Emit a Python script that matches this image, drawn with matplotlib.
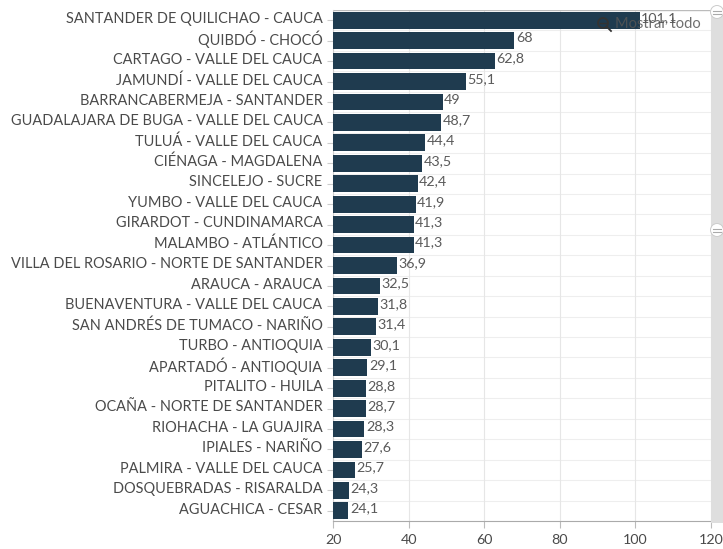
import matplotlib
matplotlib.use("Agg")
import matplotlib.pyplot as plt
from matplotlib.lines import Line2D
from matplotlib.patches import Rectangle, Ellipse
from matplotlib.transforms import ScaledTranslation

plt.rcParams['font.family'] = ['Lato', 'DejaVu Sans']

ciudades = ["SANTANDER DE QUILICHAO - CAUCA", "QUIBDÓ - CHOCÓ", "CARTAGO - VALLE DEL CAUCA",
            "JAMUNDÍ - VALLE DEL CAUCA", "BARRANCABERMEJA - SANTANDER", "GUADALAJARA DE BUGA - VALLE DEL CAUCA",
            "TULUÁ - VALLE DEL CAUCA", "CIÉNAGA - MAGDALENA", "SINCELEJO - SUCRE", "YUMBO - VALLE DEL CAUCA",
            "GIRARDOT - CUNDINAMARCA", "MALAMBO - ATLÁNTICO", "VILLA DEL ROSARIO - NORTE DE SANTANDER",
            "ARAUCA - ARAUCA", "BUENAVENTURA - VALLE DEL CAUCA", "SAN ANDRÉS DE TUMACO - NARIÑO",
            "TURBO - ANTIOQUIA", "APARTADÓ - ANTIOQUIA", "PITALITO - HUILA", "OCAÑA - NORTE DE SANTANDER",
            "RIOHACHA - LA GUAJIRA", "IPIALES - NARIÑO", "PALMIRA - VALLE DEL CAUCA",
            "DOSQUEBRADAS - RISARALDA", "AGUACHICA - CESAR"]
valores = [101.1, 68, 62.8, 55.1, 49, 48.7, 44.4, 43.5, 42.4, 41.9, 41.3, 41.3, 36.9,
           32.5, 31.8, 31.4, 30.1, 29.1, 28.8, 28.7, 28.3, 27.6, 25.7, 24.3, 24.1]
ticks_x = [20, 40, 60, 80, 100, 120]

W, H = 723, 549
fig = plt.figure(figsize=(W / 100, H / 100), dpi=100)
# ejes en pixeles de la imagen
left, right, top, bottom = 333, 711, 10, 521
ax = fig.add_axes([left / W, 1 - bottom / H, (right - left) / W, (bottom - top) / H])

y = list(range(len(ciudades)))
ax.barh(y, valores, height=0.82, color="#1f3b4f", zorder=3)
ax.set_xlim(20, 120)
ax.set_ylim(len(ciudades) - 0.5, -0.5)

ax.set_xticks(ticks_x)
ax.set_yticks(y)
ax.set_yticklabels(ciudades, fontsize=10.45, color="#4a4a4a")
ax.tick_params(axis='y', length=4, color="#cccccc", pad=3.5)
ax.tick_params(axis='x', length=5, color="#bbbbbb", labelsize=10.3, labelcolor="#4a4a4a", pad=4)
ax.grid(axis='x', color="#e6e6e6", lw=0.8, zorder=0)
for i in y:
    ax.axhline(i + 0.5, color="#eeeeee", lw=0.8, zorder=0)
ax.axhline(-0.5, color="#bbbbbb", lw=1, zorder=2)

# las etiquetas van un poco mas arriba que el centro de la barra
subir = ScaledTranslation(0, 2 / 72, fig.dpi_scale_trans)
for lab in ax.get_yticklabels():
    lab.set_transform(lab.get_transform() + subir)

for s in ['top', 'right']:
    ax.spines[s].set_visible(False)
ax.spines['left'].set_color("#cccccc")
ax.spines['bottom'].set_color("#aaaaaa")

for i, v in enumerate(valores):
    txt = f"{v:g}".replace(".", ",")
    ax.text(v + 0.4, i - 0.12, txt, va='center', ha='left', fontsize=10.3, color="#5a5a5a", zorder=5)

# barra de desplazamiento a la derecha
fig.add_artist(Rectangle((711 / W, 1 - 523 / H), 12 / W, 513 / H, transform=fig.transFigure,
                         facecolor="#dedede", edgecolor="none"))
for py in [12, 230]:
    fig.add_artist(Ellipse((717 / W, 1 - py / H), 13 / W, 13 / H, transform=fig.transFigure,
                           facecolor="white", edgecolor="#cccccc", lw=0.7))
    for dy in [-1.5, 1.5]:
        fig.add_artist(Line2D([713 / W, 721 / W], [1 - (py + dy) / H] * 2, transform=fig.transFigure,
                              color="#aaaaaa", lw=0.8))

# boton "Mostrar todo" encima de la primera barra
fig.text(615 / W, 1 - 24 / H, "Mostrar todo", fontsize=10.5, color="#555555", alpha=0.85,
         va='center', ha='left', zorder=10)
fig.add_artist(Ellipse((603 / W, 1 - 23 / H), 10 / W, 10 / H, transform=fig.transFigure,
                       facecolor="none", edgecolor="#333333", lw=1.3, zorder=10))
fig.add_artist(Line2D([600 / W, 606 / W], [1 - 23 / H] * 2, transform=fig.transFigure,
                      color="#333333", lw=1, zorder=10))
fig.add_artist(Line2D([607 / W, 611 / W], [1 - 27 / H, 1 - 31 / H], transform=fig.transFigure,
                      color="#333333", lw=1.3, zorder=10))

fig.savefig("out.png", dpi=100)
